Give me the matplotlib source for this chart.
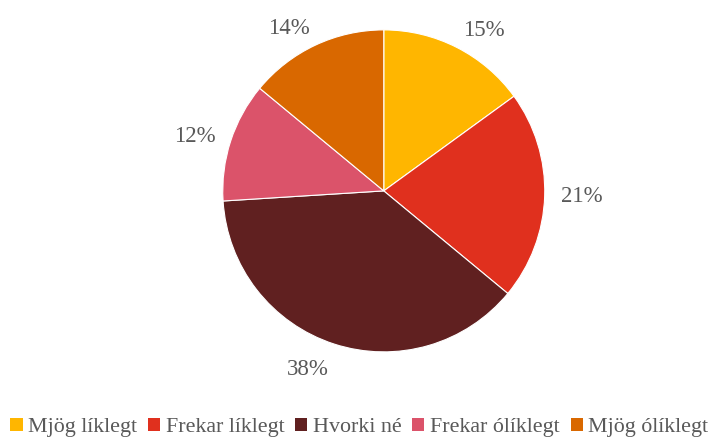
import numpy as np
import matplotlib.pyplot as plt
from matplotlib.patches import Patch

flokkar = ['Mjög líklegt', 'Frekar líklegt', 'Hvorki né', 'Frekar ólíklegt', 'Mjög ólíklegt']
hlutfall = [15, 21, 38, 12, 14]
litir = ['#FFB600', '#E0301E', '#602020', '#DB536A', '#D96800']

plt.rcParams['font.family'] = ['Liberation Serif', 'DejaVu Serif']
textalitur = '#595959'

fig = plt.figure(figsize=(7.2, 4.46), dpi=100)
ax = fig.add_axes([0.533 - 0.2236, 0.572 - 0.361, 0.4472, 0.722])

wedges, _ = ax.pie(hlutfall, colors=litir, startangle=90, counterclock=False,
                   wedgeprops=dict(edgecolor='white', linewidth=0.8))

# merkingar utan við sneiðar, eins og í Excel
for w, v in zip(wedges, hlutfall):
    a = np.deg2rad((w.theta1 + w.theta2) / 2)
    c, s = np.cos(a), np.sin(a)
    ha = 'left' if c > 0.3 else ('right' if c < -0.3 else 'center')
    if s > 0.5:
        va, d = 'baseline', 1.08
    elif s < -0.5:
        va, d = 'top', 1.1
    else:
        va, d = 'center', 1.1
    ax.text(d * c, d * s, f'{v}%', ha=ha, va=va, color=textalitur, fontsize=16.5)

ax.set_aspect('equal')
ax.set_xlim(-1, 1)
ax.set_ylim(-1, 1)
ax.axis('off')

handles = [Patch(facecolor=c, edgecolor='none') for c in litir]
fig.legend(handles, flokkar, loc='lower center', bbox_to_anchor=(0.499, -0.025),
           ncol=5, frameon=False, fontsize=15.8, handlelength=0.55, handleheight=0.55,
           handletextpad=0.25, columnspacing=0.5, labelcolor=textalitur)

fig.savefig('out.png', dpi=100)
